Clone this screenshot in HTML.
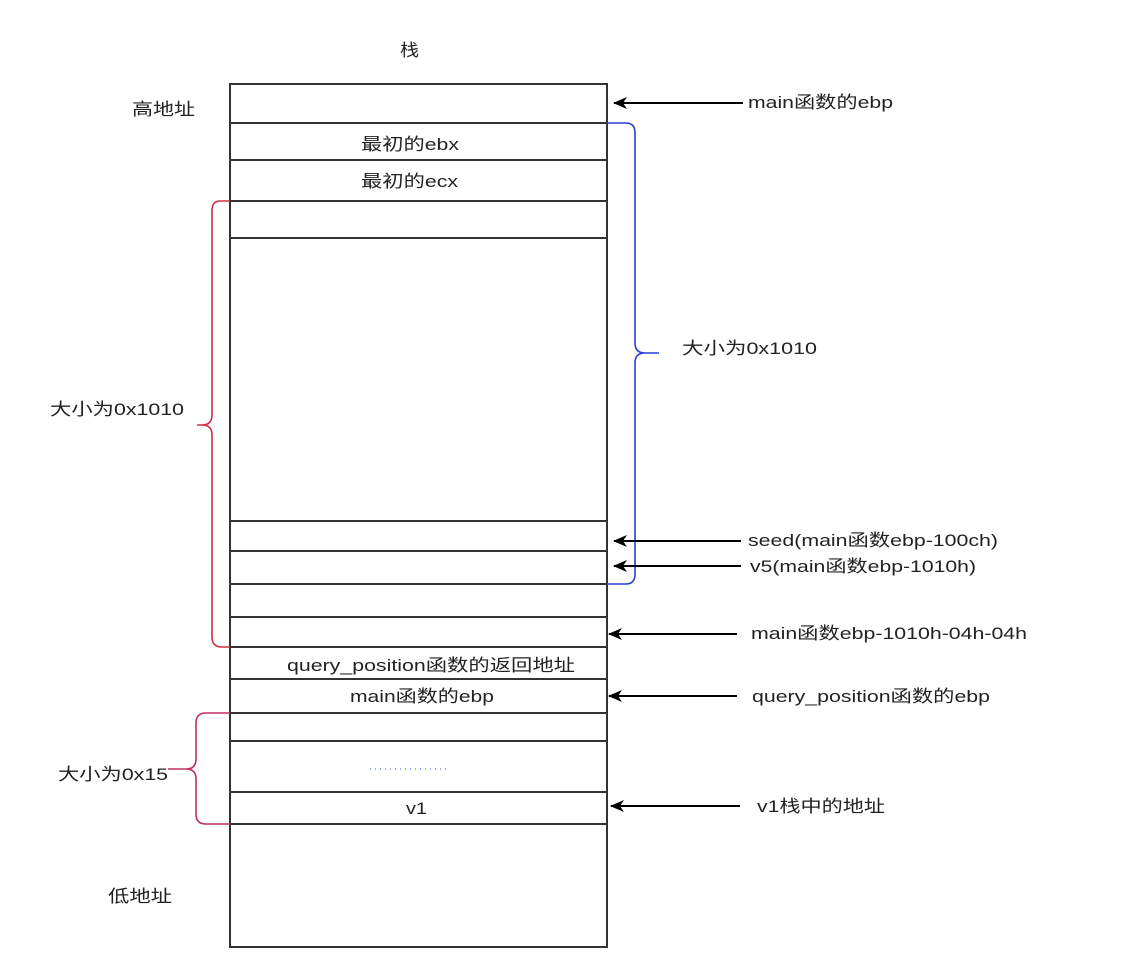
<!DOCTYPE html>
<html><head><meta charset="utf-8"><style>
html,body{margin:0;padding:0;background:#fff;}
svg{display:block;}
text{font-family:"Liberation Sans","Noto Sans CJK SC",sans-serif;font-size:17px;fill:#222;}
</style></head><body>
<svg width="1142" height="978" viewBox="0 0 1142 978" xmlns="http://www.w3.org/2000/svg">
<defs>
<marker id="ar" markerWidth="14" markerHeight="12" refX="13" refY="6" orient="auto" markerUnits="userSpaceOnUse">
<path d="M0,0 L14,6 L0,12 L4,6 Z" fill="#000"/>
</marker>
</defs>
<rect x="230" y="84" width="377" height="863" fill="none" stroke="#333" stroke-width="2"/>
<g stroke="#333" stroke-width="2">
<line x1="230" y1="123" x2="607" y2="123"/>
<line x1="230" y1="160" x2="607" y2="160"/>
<line x1="230" y1="201" x2="607" y2="201"/>
<line x1="230" y1="238" x2="607" y2="238"/>
<line x1="230" y1="521" x2="607" y2="521"/>
<line x1="230" y1="551" x2="607" y2="551"/>
<line x1="230" y1="584" x2="607" y2="584"/>
<line x1="230" y1="617" x2="607" y2="617"/>
<line x1="230" y1="647" x2="607" y2="647"/>
<line x1="230" y1="679" x2="607" y2="679"/>
<line x1="230" y1="713" x2="607" y2="713"/>
<line x1="230" y1="741" x2="607" y2="741"/>
<line x1="230" y1="792" x2="607" y2="792"/>
<line x1="230" y1="824" x2="607" y2="824"/>
</g>
<path d="M607,123 L626,123 Q635,123 635,133 L635,343 Q635,353 645,353 L659,353 M645,353 Q635,353 635,363 L635,574 Q635,584 626,584 L607,584" fill="none" stroke="#2a3fd0" stroke-width="1.6"/>
<path d="M230,201 L220,201 Q212,201 212,211 L212,415 Q212,425 202,425 L197,425 M202,425 Q212,425 212,435 L212,637 Q212,647 222,647 L230,647" fill="none" stroke="#d03040" stroke-width="1.6"/>
<path d="M230,713 L206,713 Q196,713 196,723 L196,759 Q196,769 186,769 L168,769 M186,769 Q196,769 196,779 L196,814 Q196,824 206,824 L230,824" fill="none" stroke="#c03060" stroke-width="1.6"/>
<g stroke="#000" stroke-width="2" marker-end="url(#ar)">
<line x1="743" y1="103" x2="614" y2="103"/>
<line x1="741" y1="541" x2="614" y2="541"/>
<line x1="741" y1="566" x2="614" y2="566"/>
<line x1="737" y1="634" x2="609" y2="634"/>
<line x1="737" y1="696" x2="609" y2="696"/>
<line x1="740" y1="806" x2="611" y2="806"/>
</g>
<line x1="370" y1="769" x2="450" y2="769" stroke="#3050d0" stroke-width="1" stroke-dasharray="1,4"/>
<text x="400" y="56" textLength="19" lengthAdjust="spacingAndGlyphs">栈</text>
<text x="132" y="115" textLength="63" lengthAdjust="spacingAndGlyphs">高地址</text>
<text x="50" y="415" textLength="134" lengthAdjust="spacingAndGlyphs">大小为0x1010</text>
<text x="58" y="780" textLength="110" lengthAdjust="spacingAndGlyphs">大小为0x15</text>
<text x="108" y="902" textLength="64" lengthAdjust="spacingAndGlyphs">低地址</text>
<text x="682" y="354" textLength="135" lengthAdjust="spacingAndGlyphs">大小为0x1010</text>
<text x="361" y="150" textLength="98" lengthAdjust="spacingAndGlyphs">最初的ebx</text>
<text x="361" y="187" textLength="97" lengthAdjust="spacingAndGlyphs">最初的ecx</text>
<text x="287" y="671" textLength="288" lengthAdjust="spacingAndGlyphs">query_position函数的返回地址</text>
<text x="350" y="702" textLength="144" lengthAdjust="spacingAndGlyphs">main函数的ebp</text>
<text x="406" y="814" textLength="21" lengthAdjust="spacingAndGlyphs">v1</text>
<text x="748" y="108" textLength="145" lengthAdjust="spacingAndGlyphs">main函数的ebp</text>
<text x="748" y="546" textLength="250" lengthAdjust="spacingAndGlyphs">seed(main函数ebp-100ch)</text>
<text x="750" y="572" textLength="226" lengthAdjust="spacingAndGlyphs">v5(main函数ebp-1010h)</text>
<text x="751" y="639" textLength="276" lengthAdjust="spacingAndGlyphs">main函数ebp-1010h-04h-04h</text>
<text x="752" y="702" textLength="238" lengthAdjust="spacingAndGlyphs">query_position函数的ebp</text>
<text x="757" y="812" textLength="128" lengthAdjust="spacingAndGlyphs">v1栈中的地址</text>
</svg>
</body></html>
